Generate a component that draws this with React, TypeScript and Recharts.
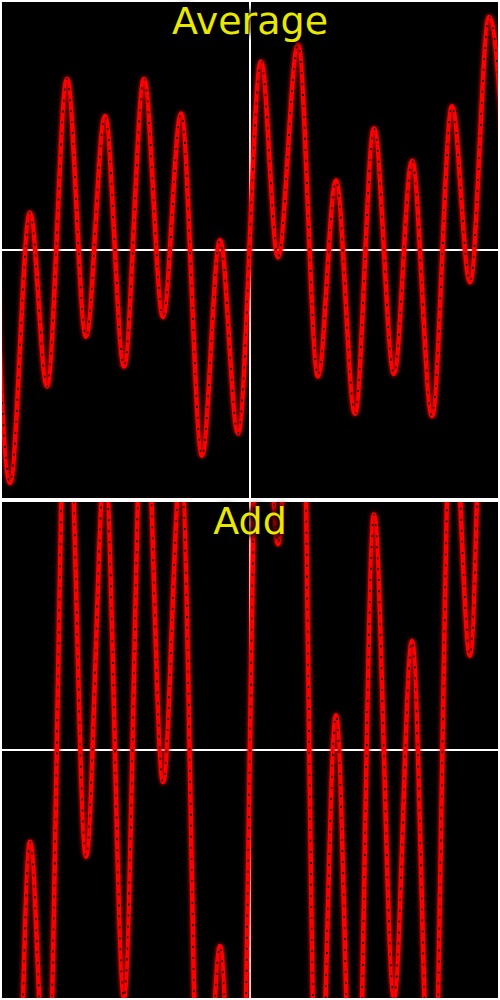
import React from "react";
import { LineChart, Line, XAxis, YAxis, ReferenceLine } from "recharts";

// sample positions of the wave extrema (shared by both panels)
const samplePositions = [
  -11, 8, 28, 45, 65, 84, 103, 122, 142, 161, 179, 200, 218, 236, 259, 276,
  296, 316, 334, 353, 372, 392, 410, 430, 450, 468, 487, 506,
];

// "Average" panel values (panel half-height = 100)
const averageValues = [
  54, -94, 15, -55, 69, -35, 54, -47, 69, -27, 55, -83, 4, -74, 76, -3, 83,
  -51, 28, -66, 49, -50, 36, -67, 58, -13, 94, 15,
];

// "Add" panel values (clipped by the panel)
const addValues = [
  -60, -270, -37, -150, 160, -43, 115, -100, 160, -13, 115, -200, -79, -220,
  200, 83, 250, -170, 14, -190, 95, -100, 44, -170, 150, 38, 250, 100,
];

const panelTitles = ["Average", "Add"];

const averageData = samplePositions.map((t, i) => ({ t, v: averageValues[i] }));
const addData = samplePositions.map((t, i) => ({ t, v: addValues[i] }));

function Panel({ title, data }: { title: string; data: { t: number; v: number }[] }) {
  return (
    <div style={{ position: "relative", width: 500, height: 500, background: "#fff" }}>
      <div style={{ position: "absolute", left: 2, top: 2, width: 496, height: 496, background: "#000" }}>
        <LineChart width={496} height={496} data={data} margin={{ top: 0, right: 0, bottom: 0, left: 0 }}>
          <XAxis dataKey="t" type="number" domain={[0, 496]} allowDataOverflow hide />
          <YAxis type="number" domain={[-100, 100]} allowDataOverflow hide />
          <ReferenceLine y={0} stroke="#fff" strokeWidth={2} />
          <ReferenceLine x={248} stroke="#fff" strokeWidth={2} />
          <Line
            className="wave-glow"
            dataKey="v"
            type="monotone"
            stroke="#ff0000"
            strokeWidth={4.5}
            dot={false}
            activeDot={false}
            isAnimationActive={false}
          />
          <Line
            dataKey="v"
            type="monotone"
            stroke="#000"
            strokeWidth={1.5}
            strokeDasharray="2 9"
            dot={false}
            activeDot={false}
            isAnimationActive={false}
          />
        </LineChart>
      </div>
      <div
        style={{
          position: "absolute",
          left: 0,
          top: 2,
          width: 500,
          textAlign: "center",
          fontFamily: '"DejaVu Sans", sans-serif',
          fontSize: 38,
          lineHeight: "38px",
          color: "#e8e800",
          textShadow: "0 0 5px #000, 0 0 8px #000, 0 0 10px #000",
        }}
      >
        {title}
      </div>
    </div>
  );
}

export default function App() {
  return (
    <div style={{ width: 500, height: 1000, background: "#fff" }}>
      <style>{`body{margin:0;background:#fff}.wave-glow .recharts-curve{filter:drop-shadow(0 0 2px rgba(255,0,0,0.9));}`}</style>
      <Panel title={panelTitles[0]} data={averageData} />
      <Panel title={panelTitles[1]} data={addData} />
    </div>
  );
}
